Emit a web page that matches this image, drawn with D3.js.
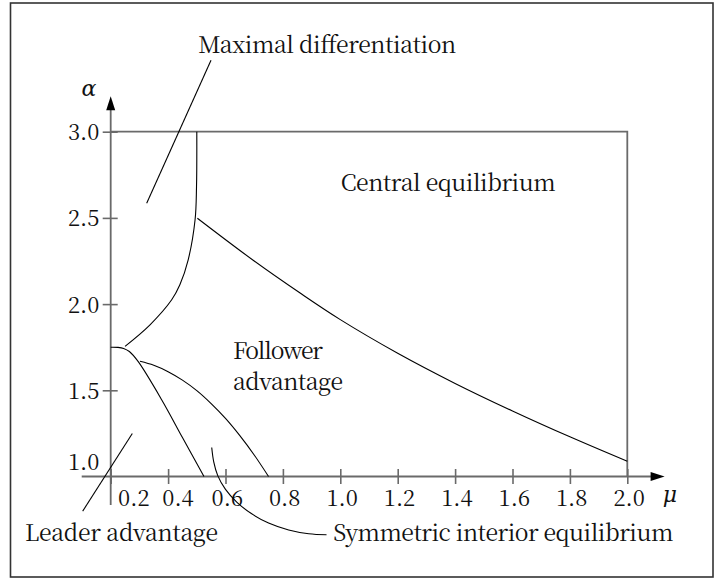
<!DOCTYPE html>
<html>
<head>
<meta charset="utf-8">
<script src="https://cdn.jsdelivr.net/npm/d3@7"></script>
</head>
<body style="margin:0">
<svg id="chart" width="716" height="580"></svg>
<script>
// ---- data ----
const xTickValues = [0.2, 0.4, 0.6, 0.8, 1.0, 1.2, 1.4, 1.6, 1.8, 2.0];
const xTickLabels = ["0.2", "0.4", "0.6", "0.8", "1.0", "1.2", "1.4", "1.6", "1.8", "2.0"];
const yTickValues = [1.0, 1.5, 2.0, 2.5, 3.0];
const yTickLabels = ["1.0", "1.5", "2.0", "2.5", "3.0"];

// boundary: maximal differentiation / follower advantage
const maxDiffBoundary = [
  [0.250, 1.755], [0.337, 1.880], [0.4125, 2.025], [0.441, 2.112],
  [0.470, 2.257], [0.494, 2.489], [0.499, 2.681], [0.500, 3.000]
];
// boundary with cusp: leader advantage
const leaderBoundary = [
  [0.200, 1.750], [0.225, 1.749], [0.245, 1.743], [0.265, 1.725],
  [0.296, 1.666], [0.378, 1.444], [0.450, 1.226], [0.525, 1.000]
];
// boundary: symmetric interior equilibrium
const symmetricBoundary = [
  [0.302, 1.668], [0.350, 1.645], [0.400, 1.608], [0.450, 1.559],
  [0.500, 1.498], [0.550, 1.423], [0.600, 1.337], [0.650, 1.237],
  [0.700, 1.125], [0.750, 1.000]
];
// boundary: central equilibrium
const centralBoundary = [
  [0.502, 2.498], [0.700, 2.250], [0.860, 2.064], [1.000, 1.910],
  [1.200, 1.715], [1.400, 1.540], [1.600, 1.380], [1.800, 1.230],
  [2.000, 1.088]
];
// region frame (alpha = 3 top edge, mu = 2 right edge)
const regionFrame = [[0.2, 3.0], [2.0, 3.0], [2.0, 1.0]];

// annotation labels and their leader lines (data units)
const regionLabels = ["Maximal differentiation", "Central equilibrium", "Follower", "advantage",
                      "Leader advantage", "Symmetric interior equilibrium"];
const maxDiffPointer = [[0.5495, 3.415], [0.3254, 2.585]];
const leaderPointer = [[0.2753, 1.249], [0.1024, 0.799]];
const symmetricPointer = [
  [0.552, 1.168], [0.559, 1.085], [0.573, 1.005], [0.600, 0.925],
  [0.640, 0.850], [0.690, 0.785], [0.750, 0.730], [0.820, 0.690],
  [0.890, 0.668], [0.952, 0.662]
];

// ---- drawing ----
const svg = d3.select("#chart");
const x = d3.scaleLinear().domain([0.2, 2.0]).range([110.7, 627.3]);
const y = d3.scaleLinear().domain([1.0, 3.0]).range([476.5, 131.7]);

const axisColor = "#6a6a6a";
const FS = 22;
const FONT = '"Noto Serif CJK SC", "DejaVu Serif", serif';
const GREEK_FONT = '"DejaVu Serif", serif';

function setFont(sel, size, family) {
  return sel.style("font-family", family || FONT).style("font-size", size + "px").attr("fill", "#111");
}

// outer frame
svg.append("rect")
  .attr("x", 10.5).attr("y", 3).attr("width", 702.5).attr("height", 574)
  .attr("fill", "none").attr("stroke", "#333").attr("stroke-width", 1.6);

// region frame lines (grey)
svg.append("path")
  .datum(regionFrame)
  .attr("d", d3.line().x(d => x(d[0])).y(d => y(d[1])))
  .attr("fill", "none").attr("stroke", axisColor).attr("stroke-width", 1.8);

// x axis
const xAxis = d3.axisBottom(x)
  .tickValues(xTickValues)
  .tickFormat((d, i) => xTickLabels[i])
  .tickSizeInner(7.5).tickSizeOuter(0).tickPadding(6.4);
const gx = svg.append("g").attr("transform", `translate(0,${y(1.0)})`).call(xAxis)
  .attr("font-family", null).attr("font-size", null);
gx.select(".domain").remove();
gx.selectAll(".tick line").attr("y1", -7.5).attr("stroke", axisColor).attr("stroke-width", 1.6);
const xLabelShift = {"0.2": 22.6, "0.4": 9.4};
setFont(gx.selectAll(".tick text"), FS)
  .attr("dx", (d, i) => (xLabelShift[xTickLabels[i]] !== undefined ? xLabelShift[xTickLabels[i]] : 1.3));

// y axis
const yAxis = d3.axisLeft(y)
  .tickValues(yTickValues)
  .tickFormat((d, i) => yTickLabels[i])
  .tickSizeInner(8).tickSizeOuter(0).tickPadding(3.4);
const gy = svg.append("g").attr("transform", `translate(${x(0.2)},0)`).call(yAxis)
  .attr("font-family", null).attr("font-size", null);
gy.select(".domain").remove();
gy.selectAll(".tick line").attr("x1", 7).attr("stroke", axisColor).attr("stroke-width", 1.6)
  .attr("display", d => d === 1.0 ? "none" : null);
setFont(gy.selectAll(".tick text"), FS)
  .attr("transform", d => d === 1.0 ? "translate(0,-14)" : "translate(0,1)");

// axis lines with arrows
const xArrowTip = x(2.13), yArrowTip = y(3.205);
svg.append("line")
  .attr("x1", x(0.099)).attr("x2", xArrowTip - 13).attr("y1", y(1.0)).attr("y2", y(1.0))
  .attr("stroke", axisColor).attr("stroke-width", 1.8);
svg.append("path")
  .attr("d", `M${xArrowTip},${y(1.0)} L${xArrowTip - 14},${y(1.0) - 4.5} L${xArrowTip - 14},${y(1.0) + 4.5} Z`)
  .attr("fill", "#000");
svg.append("line")
  .attr("x1", x(0.2)).attr("x2", x(0.2)).attr("y1", y(0.835)).attr("y2", yArrowTip + 13)
  .attr("stroke", axisColor).attr("stroke-width", 1.8);
svg.append("path")
  .attr("d", `M${x(0.2)},${yArrowTip} L${x(0.2) - 4.5},${yArrowTip + 14} L${x(0.2) + 4.5},${yArrowTip + 14} Z`)
  .attr("fill", "#000");

// axis titles
setFont(svg.append("text").attr("x", 89).attr("y", 96).attr("text-anchor", "middle"), FS, GREEK_FONT)
  .style("font-style", "italic").text("α");
setFont(svg.append("text").attr("x", 670).attr("y", 502).attr("text-anchor", "middle"), FS, GREEK_FONT)
  .style("font-style", "italic").text("μ");

// curves
const curveLine = d3.line().x(d => x(d[0])).y(d => y(d[1])).curve(d3.curveCatmullRom.alpha(0.5));
[maxDiffBoundary, leaderBoundary, symmetricBoundary, centralBoundary].forEach(c => {
  svg.append("path").datum(c).attr("d", curveLine)
    .attr("fill", "none").attr("stroke", "#000").attr("stroke-width", 1.1);
});

// pointers
[maxDiffPointer, leaderPointer].forEach(p => {
  svg.append("path").datum(p).attr("d", d3.line().x(d => x(d[0])).y(d => y(d[1])))
    .attr("fill", "none").attr("stroke", "#000").attr("stroke-width", 1.1);
});
svg.append("path").datum(symmetricPointer).attr("d", curveLine)
  .attr("fill", "none").attr("stroke", "#000").attr("stroke-width", 1.1);

// region labels
const labelPos = [
  {x: 198.3, y: 52.7, w: 258},
  {x: 340.7, y: 190.7, w: 215},
  {x: 233, y: 359.3, w: 90},
  {x: 233, y: 389.5, w: 110},
  {x: 25, y: 540.7, w: 193},
  {x: 333.3, y: 540.7, w: 340}
];
regionLabels.forEach((t, i) => {
  setFont(svg.append("text").attr("x", labelPos[i].x).attr("y", labelPos[i].y), FS + 1)
    .attr("textLength", labelPos[i].w).attr("lengthAdjust", "spacing")
    .text(t);
});
</script>
</body>
</html>
